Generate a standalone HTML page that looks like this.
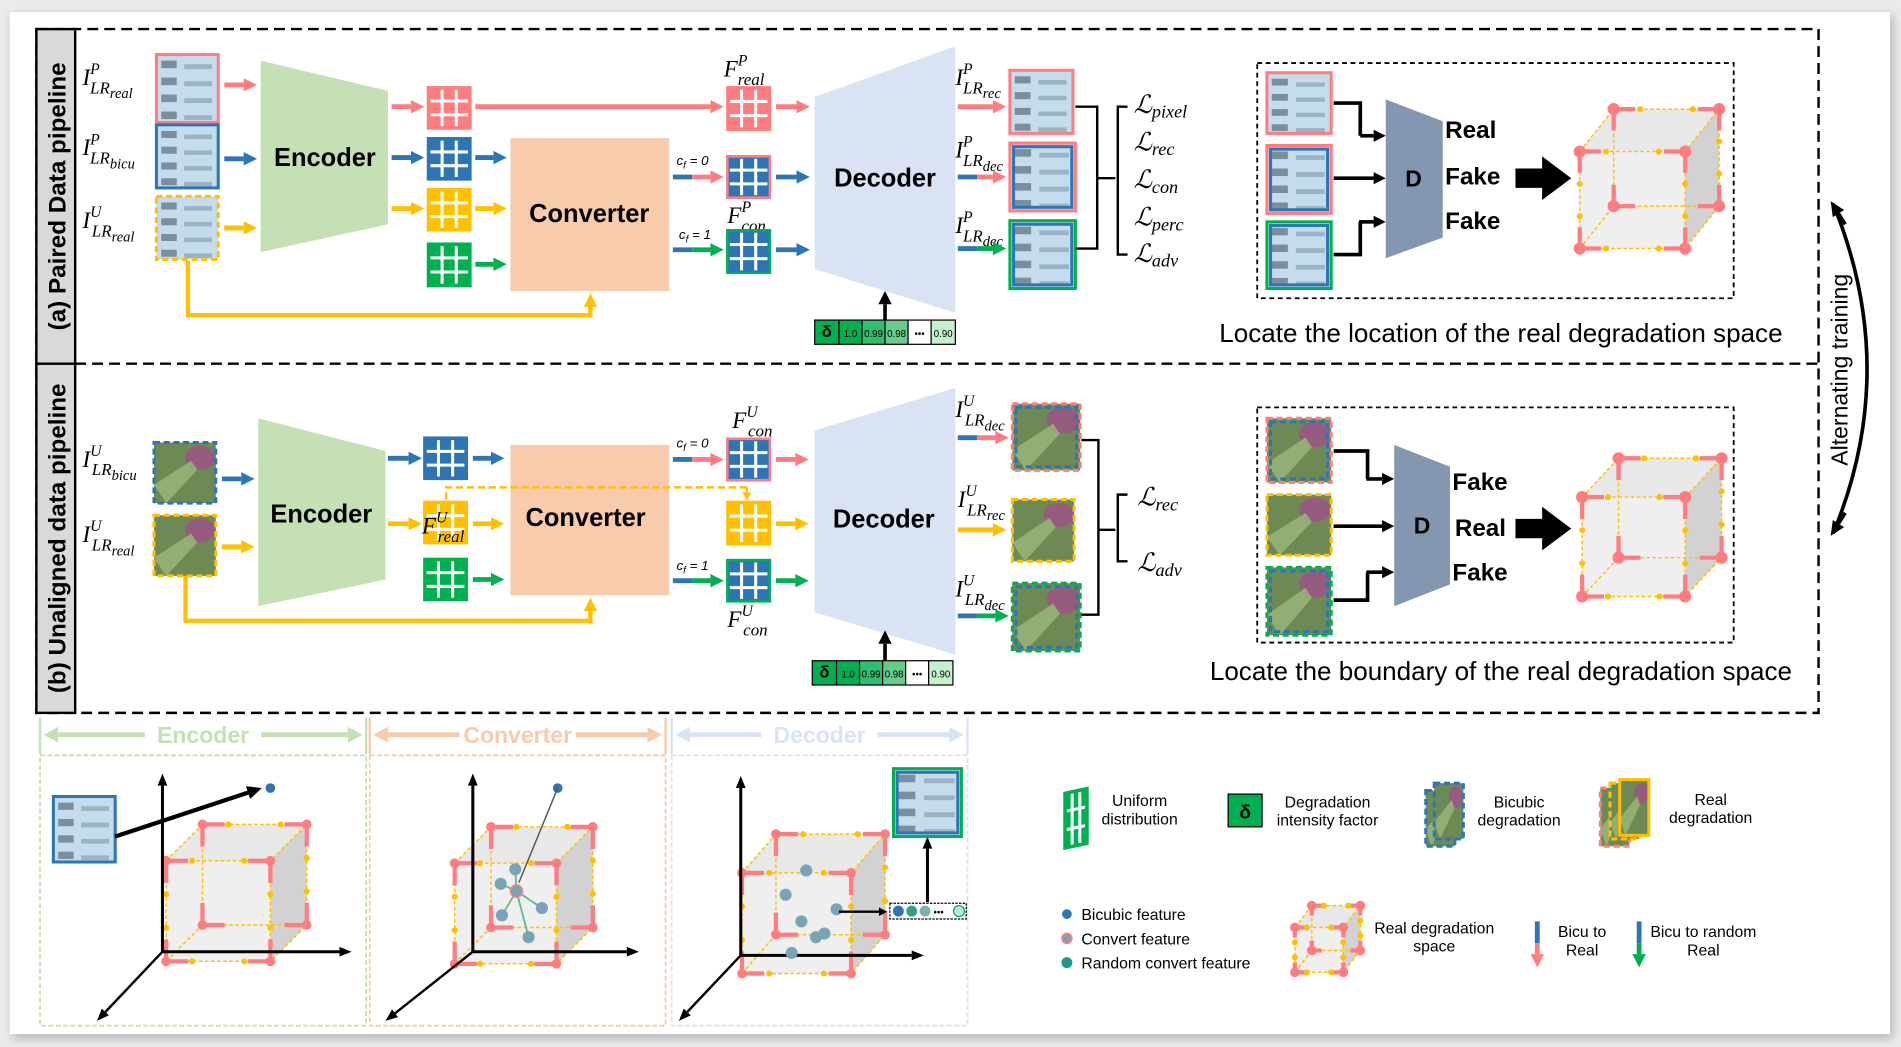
<!DOCTYPE html>
<html><head><meta charset="utf-8"><style>
html,body{margin:0;padding:0;background:#ebebeb;}
svg{display:block;}
text{font-family:"Liberation Sans",sans-serif;}
</style></head><body>
<svg id="s" width="1901" height="1047" viewBox="0 0 1568 863.6" xmlns="http://www.w3.org/2000/svg"></svg>
<script>
const S=document.getElementById('s');let h='';
const PK='#ff7c80',BL='#2e75b6',YE='#ffc000',GR='#00b050';
function R(x,y,w,hh,f,s='none',sw=0,ex=''){h+=`<rect x="${x}" y="${y}" width="${w}" height="${hh}" fill="${f}" stroke="${s}" stroke-width="${sw}" ${ex}/>`}
function L(p,c,w,ex=''){h+=`<polyline points="${p}" fill="none" stroke="${c}" stroke-width="${w}" ${ex}/>`}
function A(x1,y1,x2,y2,c,w=4,hl=11,hw=11){const a=Math.atan2(y2-y1,x2-x1),bx=x2-hl*Math.cos(a),by=y2-hl*Math.sin(a),px=-Math.sin(a)*hw/2,py=Math.cos(a)*hw/2;h+=`<line x1="${x1}" y1="${y1}" x2="${bx}" y2="${by}" stroke="${c}" stroke-width="${w}"/><polygon points="${x2},${y2} ${bx+px},${by+py} ${bx-px},${by-py}" fill="${c}"/>`}
function A2(x1,y,x2,c1,c2){h+=`<line x1="${x1}" y1="${y}" x2="${x1+16}" y2="${y}" stroke="${c1}" stroke-width="4"/>`;A(x1+16,y,x2,y,c2)}
function T(x,y,s,sz,ex=''){h+=`<text x="${x}" y="${y}" font-size="${sz}" ${ex}>${s}</text>`}
function G(x,y,w,hh,f,b){R(x,y,w,hh,f,b||f,2);for(let i=1;i<3;i++){h+=`<line x1="${x+w*i/3}" y1="${y+2}" x2="${x+w*i/3}" y2="${y+hh-2}" stroke="#fff" stroke-width="2.5"/><line x1="${x+2}" y1="${y+hh*i/3}" x2="${x+w-2}" y2="${y+hh*i/3}" stroke="#fff" stroke-width="2.5"/>`}}
function IMG(x,y,w,hh,b,dash,b2,plant){
 if(plant){R(x,y,w,hh,'#6d8a55');h+=`<ellipse cx="${x+w*0.75}" cy="${y+hh*0.25}" rx="${w*0.25}" ry="${hh*0.2}" fill="#a0508a" opacity=".8"/><path d="M${x} ${y+hh*0.7} L${x+w*0.6} ${y+hh*0.3} L${x+w*0.7} ${y+hh*0.45} L${x+w*0.2} ${y+hh}Z" fill="#9bb87a" opacity=".8"/>`}
 else{R(x,y,w,hh,'#c5dcec');for(let i=0;i<4;i++){R(x+4,y+5+i*hh/4,w*0.25,hh/9,'#4a5a6a',"none",0,'opacity=".6"');R(x+w*0.45,y+8+i*hh/4,w*0.45,hh/14,'#6f8aa0',"none",0,'opacity=".5"')}}
 if(b2)R(x+3,y+3,w-6,hh-6,'none',b2,2.5,dash?'stroke-dasharray="5 3"':'');
 R(x,y,w,hh,'none',b,2.5,dash?'stroke-dasharray="5 3"':'');}
function M(x,y,main,sup,sub,ss,sz=19){h+=`<text x="${x}" y="${y}" font-family="Liberation Serif,serif" font-style="italic" font-size="${sz}" style="font-family:'Liberation Serif',serif">${main}<tspan dy="-9" font-size="13">${sup}</tspan><tspan dx="-8" dy="16" font-size="14">${sub}</tspan>${ss?`<tspan dy="4" font-size="12">${ss}</tspan>`:''}</text>`}
function LS(x,y,s){h+=`<text x="${x}" y="${y}" font-size="21" font-style="italic" style="font-family:'DejaVu Serif','Liberation Serif',serif">ℒ<tspan dy="4" font-size="15" style="font-family:'Liberation Serif',serif">${s}</tspan></text>`}
function CUBE(x,y,w,hh,dx,dy,big){
 const bx=x+dx,by=y-dy;
 h+=`<polygon points="${x},${y} ${bx},${by} ${bx+w},${by} ${x+w},${y}" fill="#e6e6e6" opacity=".9"/><polygon points="${x+w},${y} ${bx+w},${by} ${bx+w},${by+hh} ${x+w},${y+hh}" fill="#d2d2d2"/><rect x="${x}" y="${y}" width="${w}" height="${hh}" fill="#ececec" opacity=".85"/>`;
 const d='stroke-dasharray="3 2"';
 L(`${bx},${by} ${bx},${by+hh} ${bx+w},${by+hh}`,YE,1.2,d);
 L(`${x},${y+hh} ${bx},${by+hh}`,YE,1.2,d);
 L(`${x},${y} ${bx},${by} ${bx+w},${by} ${x+w},${y}`,YE,1.2,d);
 L(`${bx+w},${by} ${bx+w},${by+hh} ${x+w},${y+hh}`,YE,1.2,d);
 L(`${x},${y} ${x+w},${y} ${x+w},${y+hh} ${x},${y+hh} ${x},${y}`,YE,1.2,d);
 const pk=(x1,y1,x2,y2)=>{h+=`<line x1="${x1}" y1="${y1}" x2="${x2}" y2="${y2}" stroke="${PK}" stroke-width="3.5"/>`};
 const c=[[x,y],[x+w,y],[x,y+hh],[x+w,y+hh],[bx,by],[bx+w,by],[bx,by+hh],[bx+w,by+hh]];
 const s=Math.min(w,hh)*0.22;
 c.forEach(([px,py],i)=>{const sx=(i%2?-1:1),sy=(i<2||i==4||i==5)?1:-1;pk(px,py,px+sx*s,py);pk(px,py,px,py+sy*s);h+=`<circle cx="${px}" cy="${py}" r="${big?5:4}" fill="${PK}"/>`});
 [[x+w/4,y],[x+3*w/4,y],[x,y+hh/3],[x,y+2*hh/3],[x+w,y+hh/3],[x+w,y+2*hh/3],[x+w/4,y+hh],[x+3*w/4,y+hh],[bx+w/4,by],[bx+3*w/4,by],[bx+w,by+hh/3],[bx+w,by+2*hh/3]].forEach(([px,py])=>{h+=`<circle cx="${px}" cy="${py}" r="2.5" fill="${YE}"/>`});
}
function DELTA(x,y){const cells=[[20,'#00b050','δ',14],[19,'#00b050','1.0',8],[19,'#2fbf6e','0.99',8],[19,'#66cc8a','0.98',8],[19,'#fff','•••',8],[20,'#c6efce','0.90',8]];let cx=x;cells.forEach(([w,f,t,s])=>{R(cx,y,w,20,f,'#000',1);T(cx+w/2,y+14,t,s,`text-anchor="middle" font-weight="${s>10?'bold':'normal'}"`);cx+=w})}
function BIGARROW(x,y){h+=`<polygon points="${x},${y+10} ${x+22},${y+10} ${x+22},${y} ${x+46},${y+18} ${x+22},${y+36} ${x+22},${y+26} ${x},${y+26}" fill="#000"/>`}

R(8,10,1551,843,'#fff','none',0,'style="filter:drop-shadow(2px 3px 4px rgba(0,0,0,.25))"');
R(30,24,1470,564,'none','#000',2,'stroke-dasharray="9 5"');
h+=`<line x1="62" y1="300" x2="1500" y2="300" stroke="#000" stroke-width="2" stroke-dasharray="9 5"/>`;
R(30,24,32,276,'#d9d9d9','#000',2);R(30,300,32,288,'#d9d9d9','#000',2);
T(0,0,'(a) Paired Data pipeline',20,'font-weight="bold" text-anchor="middle" transform="translate(54,162) rotate(-90)"');
T(0,0,'(b) Unaligned data pipeline',20,'font-weight="bold" text-anchor="middle" transform="translate(54,444) rotate(-90)"');

M(68,70,'I','P','LR','real');M(68,128,'I','P','LR','bicu');M(68,188,'I','U','LR','real');
IMG(129,45,51,56,PK);IMG(129,103,51,52,BL);IMG(129,162,51,52,YE,1);
A(185,70,212,70,PK);A(185,131,212,131,BL);A(185,188,212,188,YE);
h+=`<polygon points="215,50 320,75 320,185 215,208" fill="#c5e0b4"/>`;T(268,137,'Encoder',21,'font-weight="bold" text-anchor="middle"');
A(323,88,350,88,PK);A(323,130,350,130,BL);A(323,172,350,172,YE);
G(353,72,35,34,PK);G(353,114,35,34,BL);G(353,156,35,34,YE);G(353,201,35,35,GR);
A(392,88,597,88,PK);A(392,130,418,130,BL);A(392,172,418,172,YE);A(392,218,418,218,GR);
R(421,114,131,126,'#f8cbad');T(486,183,'Converter',21,'font-weight="bold" text-anchor="middle"');
L('155,215 155,260 487,260 487,250',YE,3.5);A(487,262,487,242,YE,3.5);
M(597,63,'F','P','real','');
G(600,72,35,35,PK);A(640,88,668,88,PK);
T(558,136,'c<tspan font-size="8" dy="3">f</tspan><tspan dy="-3"> = 0</tspan>',11,'font-style="italic"');
A2(555,146,597,BL,PK);G(600,129,35,34,BL);R(600,129,35,34,'none',PK,2);A(640,146,668,146,BL);
M(600,184,'F','P','con','');
T(560,197,'c<tspan font-size="8" dy="3">f</tspan><tspan dy="-3"> = 1</tspan>',11,'font-style="italic"');
A2(555,206,597,BL,GR);G(600,190,35,35,BL);R(600,190,35,35,'none',GR,2);A(640,206,668,206,BL);
h+=`<polygon points="672,80 788,38 788,258 672,222" fill="#dae3f3"/>`;T(730,154,'Decoder',21,'font-weight="bold" text-anchor="middle"');
DELTA(672,264);A(730,264,730,240,'#000',3);
M(788,70,'I','P','LR','rec');M(788,130,'I','P','LR','dec');M(788,192,'I','P','LR','dec');
A(790,88,830,88,PK);A2(790,146,830,BL,PK);A2(790,205,830,BL,GR);
IMG(833,58,52,52,PK);IMG(833,118,54,56,PK,0,BL);IMG(833,182,54,56,GR,0,BL);
L('887,88 905,88 905,205 887,205',"#000",2);L('905,147 920,147',"#000",2);L('930,88 922,88 922,210 930,210',"#000",2);
LS(935,93,'pixel');LS(935,124,'rec');LS(935,155,'con');LS(935,186,'perc');LS(935,216,'adv');
R(1037,52,393,194,'none','#000',1.5,'stroke-dasharray="4 3"');
IMG(1045,60,53,50,PK);IMG(1045,120,53,56,PK,0,BL);IMG(1045,183,53,55,GR,0,BL);
h+=`<polygon points="1143,82 1190,100 1190,196 1143,213" fill="#8497b0"/>`;T(1166,154,'D',19,'font-weight="bold" text-anchor="middle"');
L('1100,85 1122,85 1122,103',"#000",3);A(1122,112,1143,112,'#000',3,10,10);L('1122,112 1122,100','#000',3);
A(1100,147,1143,147,'#000',3,10,10);
L('1100,210 1122,210 1122,183',"#000",3);A(1121,183,1143,183,'#000',3,10,10);
T(1192,114,'Real',20,'font-weight="bold"');T(1192,152,'Fake',20,'font-weight="bold"');T(1192,189,'Fake',20,'font-weight="bold"');
BIGARROW(1250,129);CUBE(1303,125,87,80,28,35,1);
T(1238,282,'Locate the location of the real degradation space',21.5,'text-anchor="middle"');

M(68,385,'I','U','LR','bicu');M(68,447,'I','U','LR','real');
IMG(127,365,51,50,BL,1,0,1);IMG(127,425,51,50,YE,1,0,1);
A(183,395,210,395,BL);A(183,451,210,451,YE);
h+=`<polygon points="213,345 318,372 318,478 213,500" fill="#c5e0b4"/>`;T(265,431,'Encoder',21,'font-weight="bold" text-anchor="middle"');
A(320,378,348,378,BL);A(320,432,348,432,YE);
G(350,361,35,34,BL);G(350,414,35,34,YE);G(350,461,35,34,GR);
A(390,378,416,378,BL);A(390,432,416,432,YE);A(390,478,416,478,GR);
R(421,367,131,124,'#f8cbad');T(483,434,'Converter',21,'font-weight="bold" text-anchor="middle"');
M(348,440,'F','U','real','');
L('368,412 368,402 616,402 616,406',YE,2,'stroke-dasharray="6 3"');A(616,402,616,413,YE,2,7,7);
L('153,475 153,512 487,512 487,500',YE,3.5);A(487,514,487,493,YE,3.5);
M(604,353,'F','U','con','');
T(558,369,'c<tspan font-size="8" dy="3">f</tspan><tspan dy="-3"> = 0</tspan>',11,'font-style="italic"');
A2(555,379,597,BL,PK);G(600,362,35,34,BL);R(600,362,35,34,'none',PK,2);A(640,379,667,379,PK);
G(600,414,35,35,YE);A(640,432,667,432,YE);
T(558,470,'c<tspan font-size="8" dy="3">f</tspan><tspan dy="-3"> = 1</tspan>',11,'font-style="italic"');
A2(555,479,597,BL,GR);G(600,462,35,34,BL);R(600,462,35,34,'none',GR,2);A(640,479,667,479,GR);
M(600,517,'F','U','con','');
h+=`<polygon points="672,355 788,320 788,540 672,505" fill="#dae3f3"/>`;T(729,435,'Decoder',21,'font-weight="bold" text-anchor="middle"');
DELTA(670,545);A(730,545,730,520,'#000',3);
M(788,344,'I','U','LR','dec');M(790,418,'I','U','LR','rec');M(788,492,'I','U','LR','dec');
A2(790,361,832,BL,PK);A(790,437,830,437,YE);A2(790,508,832,BL,GR);
IMG(835,333,56,55,PK,1,BL,1);IMG(835,412,51,51,YE,1,0,1);IMG(835,481,56,56,GR,1,BL,1);
L('892,363 906,363 906,507 892,507',"#000",2);L('906,437 920,437','#000',2);L('930,408 922,408 922,463 930,463',"#000",2);
LS(938,417,'rec');LS(938,471,'adv');
R(1037,336,393,194,'none','#000',1.5,'stroke-dasharray="4 3"');
IMG(1045,345,53,53,PK,1,BL,1);IMG(1045,408,53,50,YE,1,0,1);IMG(1045,468,53,56,GR,1,BL,1);
h+=`<polygon points="1150,367 1196,385 1196,482 1150,500" fill="#8497b0"/>`;T(1173,440,'D',19,'font-weight="bold" text-anchor="middle"');
L('1100,372 1128,372 1128,395','#000',3);A(1127,395,1150,395,'#000',3,10,10);
A(1100,434,1150,434,'#000',3,10,10);
L('1100,495 1128,495 1128,472','#000',3);A(1127,472,1150,472,'#000',3,10,10);
T(1198,404,'Fake',20,'font-weight="bold"');T(1200,442,'Real',20,'font-weight="bold"');T(1198,479,'Fake',20,'font-weight="bold"');
BIGARROW(1250,418);CUBE(1305,410,85,82,30,32,1);
T(1238,561,'Locate the boundary of the real degradation space',21.5,'text-anchor="middle"');

h+=`<path d="M1512,440 Q1568,305 1512,168" fill="none" stroke="#000" stroke-width="3"/>`;
A(1522,185,1510,166,'#000',3,12,11);A(1522,423,1510,442,'#000',3,12,11);
T(0,0,'Alternating training',19,'text-anchor="middle" transform="translate(1524,305) rotate(-90)"');

function HDR(x1,x2,c,t){const m=(x1+x2)/2;h+=`<line x1="${x1}" y1="592" x2="${x1}" y2="622" stroke="${c}" stroke-width="2"/><line x1="${x2}" y1="592" x2="${x2}" y2="622" stroke="${c}" stroke-width="2"/>`;A(m-48,606,x1+3,606,c,4,12,13);A(m+48,606,x2-3,606,c,4,12,13);T(m,613,t,19,`font-weight="bold" fill="${c}" text-anchor="middle"`)}
HDR(33,302,'#c5e0b4','Encoder');HDR(305,549,'#f8cbad','Converter');HDR(554,798,'#dae3f3','Decoder');
R(33,623,269,223,'none','#c5e0b4',1.5,'stroke-dasharray="4 2"');R(305,623,244,223,'none','#f8cbad',1.5,'stroke-dasharray="4 2"');R(554,623,244,223,'none','#dae3f3',1.5,'stroke-dasharray="4 2"');
function AX(ox,oy,top,right,dx,dy){A(ox,oy,ox,top,'#000',2.5,10,8);A(ox,oy,right,oy,'#000',2.5,10,8);A(ox,oy,dx,dy,'#000',2,10,8)}
CUBE(137,710,86,83,30,30);AX(134,785,638,290,80,842);
IMG(44,657,51,54,BL);A(95,690,216,650,'#000',3.5,12,11);h+=`<circle cx="223" cy="650" r="4" fill="${BL}"/>`;
CUBE(375,712,84,83,30,30);AX(390,785,638,527,318,842);
h+=`<circle cx="460" cy="650" r="4" fill="${BL}"/><line x1="460" y1="650" x2="428" y2="728" stroke="#555" stroke-width="1.2"/>`;
[[413,729],[425,717],[447,749],[414,755],[436,773]].forEach(([px,py])=>{h+=`<line x1="426" y1="735" x2="${px}" y2="${py}" stroke="#5bbf8a" stroke-width="1.5"/><circle cx="${px}" cy="${py}" r="5" fill="#7aa3b8"/>`});
h+=`<circle cx="426" cy="735" r="5" fill="#7aa3b8" stroke="${PK}" stroke-width="1.2"/>`;
CUBE(612,720,90,83,28,32);AX(611,788,640,762,560,842);
[[665,718],[648,738],[653,786],[673,773],[661,760],[690,750],[680,770]].forEach(([px,py])=>{h+=`<circle cx="${px}" cy="${py}" r="5" fill="#7aa3b8"/>`});
A(692,752,732,752,'#000',2,7,7);R(734,745,63,13,'#fff','#000',1,'stroke-dasharray="2 1"');
[[741,BL],[752,'#3a9a8a'],[763,'#7ab0b0']].forEach(([cx,c])=>{h+=`<circle cx="${cx}" cy="751.5" r="4.5" fill="${c}"/>`});T(770,755,'•••',8);h+=`<circle cx="791" cy="751.5" r="4.5" fill="#bfe8d8" stroke="${GR}" stroke-width="1"/>`;
A(765,744,765,690,'#000',2.5,10,8);IMG(737,634,56,56,GR,0,BL);

h+=`<g transform="translate(878,650) skewY(-12)">`;G(0,4,19,46,GR);h+=`</g>`;
T(940,665,'Uniform',13,'text-anchor="middle"');T(940,680,'distribution',13,'text-anchor="middle"');
R(1013,655,28,27,GR,'#000',1);T(1027,675,'δ',16,'text-anchor="middle" font-weight="bold"');
T(1095,666,'Degradation',13,'text-anchor="middle"');T(1095,681,'intensity factor',13,'text-anchor="middle"');
IMG(1176,652,24,46,BL,1,0,1);IMG(1183,646,24,46,BL,1,0,1);
T(1253,666,'Bicubic',13,'text-anchor="middle"');T(1253,681,'degradation',13,'text-anchor="middle"');
IMG(1320,650,24,48,PK,1,0,1);IMG(1328,646,24,46,YE,1,0,1);IMG(1336,643,24,46,YE,0,0,1);
T(1411,664,'Real',13,'text-anchor="middle"');T(1411,679,'degradation',13,'text-anchor="middle"');
h+=`<circle cx="880" cy="754" r="4" fill="${BL}"/><circle cx="880" cy="774" r="4" fill="#7aa3b8" stroke="${PK}" stroke-width="1.5"/><circle cx="880" cy="794" r="4.5" fill="#1a9a8a"/>`;
T(892,759,'Bicubic feature',13);T(892,779,'Convert feature',13);T(892,799,'Random convert feature',13);
CUBE(1068,765,40,37,14,18);
T(1183,770,'Real degradation',13,'text-anchor="middle"');T(1183,785,'space',13,'text-anchor="middle"');
h+=`<line x1="1268" y1="760" x2="1268" y2="778" stroke="${BL}" stroke-width="4"/>`;A(1268,778,1268,798,PK,4,11,11);
T(1305,773,'Bicu to',13,'text-anchor="middle"');T(1305,788,'Real',13,'text-anchor="middle"');
h+=`<line x1="1352" y1="760" x2="1352" y2="778" stroke="${BL}" stroke-width="4"/>`;A(1352,778,1352,798,GR,4,11,11);
T(1405,773,'Bicu to random',13,'text-anchor="middle"');T(1405,788,'Real',13,'text-anchor="middle"');
S.innerHTML=h;
</script>
</body></html>
